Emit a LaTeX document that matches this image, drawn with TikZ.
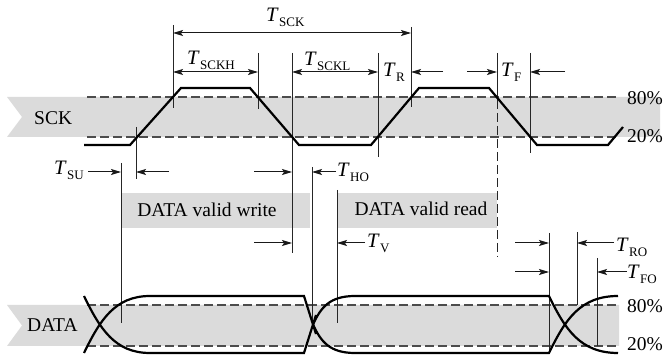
\documentclass[tikz,border=0pt]{standalone}
\usepackage{fontspec}
\setmainfont{Liberation Serif}
\usetikzlibrary{arrows.meta}
\newcommand{\Tsub}[1]{\textit{T}\kern0.3pt\raisebox{-4.5pt}{\fontsize{13}{13}\selectfont #1}}
\begin{document}
\begin{tikzpicture}[x=1pt,y=-1pt,
  wave/.style={line width=2.2pt, black, line join=miter},
  guide/.style={line width=1pt, black!85},
  refdash/.style={line width=1.2pt, black!70, dash pattern=on 9pt off 4pt},
  dim/.style={line width=1pt, black!90, -{Stealth[length=10pt,width=6pt,inset=2pt]}},
  dimboth/.style={line width=1pt, black!90, {Stealth[length=10pt,width=6pt,inset=2pt]}-{Stealth[length=10pt,width=6pt,inset=2pt]}},
  band/.style={fill=black!14, draw=none},
  lbl/.style={font=\fontsize{19.5}{19.5}\selectfont, inner sep=0pt, anchor=base west},
  tl/.style={font=\fontsize{20.5}{20.5}\selectfont, inner sep=0pt, anchor=base west}]
\useasboundingbox (0,0) rectangle (667,355);

% bands
\fill[band] (7,97) -- (660,97) -- (660,137) -- (7,137) -- (22,117) -- cycle;
\fill[band] (7,305) -- (619,305) -- (619,346) -- (7,346) -- (22,325.5) -- cycle;
\fill[band] (121,193) rectangle (310,228);
\fill[band] (337,193) rectangle (497,228);

% threshold lines
\draw[refdash] (87,97) -- (618,97);
\draw[refdash] (87,137) -- (618,137);
\draw[refdash] (87,305) -- (618,305);
\draw[refdash] (87,346) -- (618,346);

% vertical guides
\draw[guide] (121,163) -- (121,323);
\draw[guide] (136,127) -- (136,179);
\draw[guide] (173,25) -- (173,108);
\draw[guide] (258,53) -- (258,109);
\draw[guide] (292,53) -- (292,253);
\draw[guide] (312,167) -- (312,323);
\draw[guide] (337,190) -- (337,323);
\draw[guide] (378,53) -- (378,157);
\draw[guide] (411,27) -- (411,107);
\draw[guide] (497,53) -- (497,100);
\draw[guide, dash pattern=on 9pt off 4pt] (497,100) -- (497,257);
\draw[guide] (530,53) -- (530,153);
\draw[guide] (549,233) -- (549,353);
\draw[guide] (577,232) -- (577,305);
\draw[guide] (597,258) -- (597,346);

% SCK waveform
\draw[wave] (84,145) -- (130,145) -- (181,88) -- (250,88) -- (299,145) -- (371,145)
  -- (419,88) -- (489,88) -- (537,145) -- (608,145) -- (623,127);

% DATA waveform
\draw[wave] (84,353) .. controls (100,320) and (115,296) .. (150,296) -- (304,296) -- (316,334);
\draw[wave] (84,296) .. controls (100,329) and (115,353) .. (150,353) -- (304,353) -- (316,315);
\draw[wave] (313,324.5) .. controls (321,307) and (330,296) .. (355,296) -- (549,296)
  .. controls (565,329) and (580,353) .. (618,353);
\draw[wave] (313,324.5) .. controls (321,342) and (330,353) .. (355,353) -- (549,353)
  .. controls (565,320) and (580,296) .. (618,296);

% dimension arrows
\draw[dimboth] (173,33) -- (411,33);
\draw[dimboth] (173,72) -- (258,72);
\draw[dimboth] (292,72) -- (378,72);
\draw[dim] (443,72) -- (411,72);
\draw[dim] (467,72) -- (497,72);
\draw[dim] (565,72) -- (530,72);
\draw[dim] (88,172) -- (121,172);
\draw[dim] (169,172) -- (136,172);
\draw[dim] (254,172) -- (292,172);
\draw[dim] (336,172) -- (312,172);
\draw[dim] (254,243) -- (292,243);
\draw[dim] (365,243) -- (337,243);
\draw[dim] (515,243) -- (549,243);
\draw[dim] (614,243) -- (577,243);
\draw[dim] (515,272) -- (549,272);
\draw[dim] (627,272) -- (597,272);

% labels
\node[lbl] (sck) at (34,125) {SCK};
\node[lbl] (data) at (27,332) {DATA};
\node[lbl, anchor=base] (vw) at (207,217) {DATA valid write};
\node[lbl, anchor=base] (vr) at (421,216) {DATA valid read};
\node[lbl] (s80) at (627,105) {80\%};
\node[lbl] (s20) at (627,143) {20\%};
\node[lbl] (d80) at (627,313) {80\%};
\node[lbl] (d20) at (627,351) {20\%};

\node[tl] (tsck) at (266,22) {\Tsub{SCK}};
\node[tl] (tsckh) at (187,65) {\Tsub{SCKH}};
\node[tl] (tsckl) at (304,66) {\Tsub{SCKL}};
\node[tl] (tr) at (383,77) {\Tsub{R}};
\node[tl] (tf) at (501,77) {\Tsub{F}};
\node[tl] (tsu) at (54,175) {\Tsub{SU}};
\node[tl] (tho) at (337,177) {\Tsub{HO}};
\node[tl] (tv) at (367,248) {\Tsub{V}};
\node[tl] (tro) at (616,252) {\Tsub{RO}};
\node[tl] (tfo) at (627,279) {\Tsub{FO}};
\end{tikzpicture}
\end{document}
